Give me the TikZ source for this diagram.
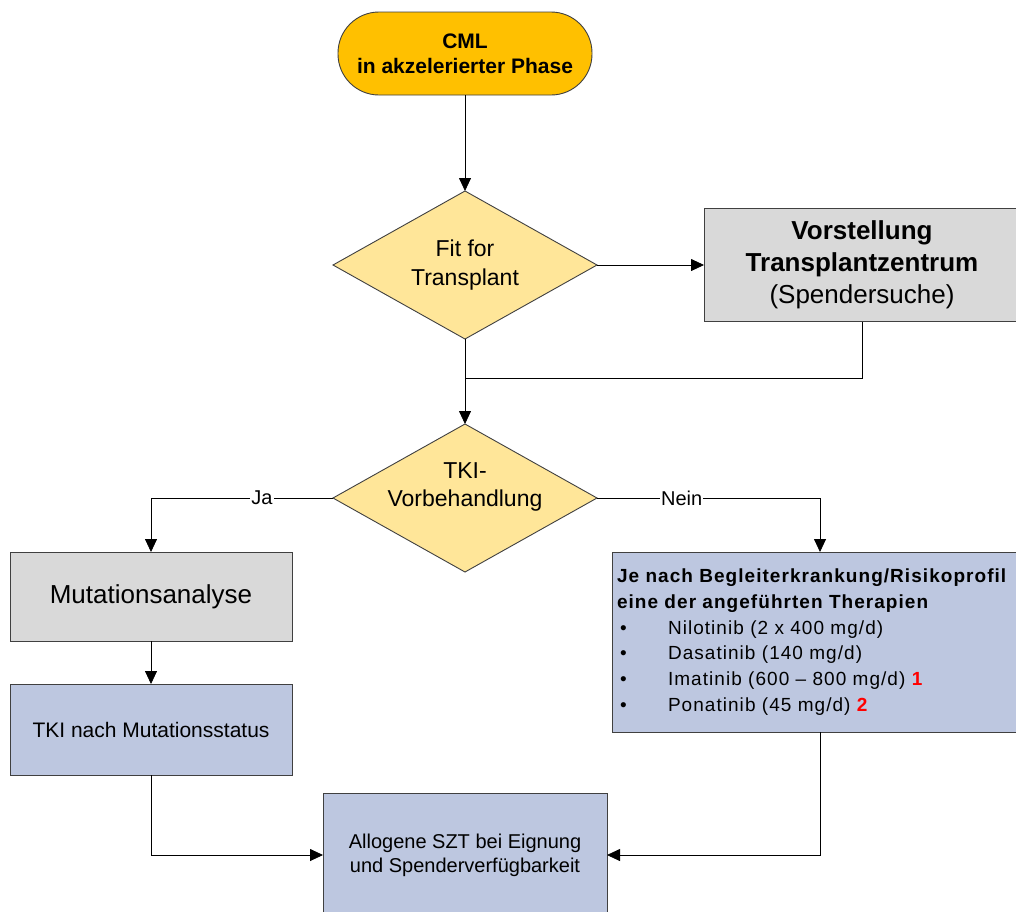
\documentclass[tikz,border=0pt]{standalone}
\usepackage{fontspec}
\setmainfont{Liberation Sans}
\newfontfamily\spaced[LetterSpace=5.5]{Liberation Sans}
\usetikzlibrary{shapes.geometric,arrows.meta}
\definecolor{cmlfill}{HTML}{FFC000}
\definecolor{decfill}{HTML}{FFE699}
\definecolor{grayfill}{HTML}{D9D9D9}
\definecolor{bluefill}{HTML}{BDC7E0}
\definecolor{border}{HTML}{404040}
\definecolor{redtxt}{HTML}{FF0000}
\newcommand{\blt}{\makebox[51pt][l]{\hspace{3pt}•}}
\begin{document}
\begin{tikzpicture}[x=1pt,y=-1pt,
 every node/.style={inner sep=0pt, outer sep=0pt},
 shapebox/.style={draw=border, line width=0.9pt},
 terminal/.style={shapebox, fill=cmlfill, rounded corners=41pt, minimum width=254pt, minimum height=83pt, align=center, font=\fontsize{21}{25}\selectfont\bfseries},
 decision/.style={shapebox, fill=decfill, diamond, minimum width=264pt, minimum height=148pt, aspect=1.78, align=center, font=\fontsize{23}{29}\selectfont},
 dtext/.style={align=center, font=\fontsize{23}{28}\selectfont},
 graybox/.style={shapebox, fill=grayfill, rectangle},
 bluebox/.style={shapebox, fill=bluefill, rectangle},
 conn/.style={line width=0.8pt, draw=black, -{Triangle[length=13pt,width=12pt]}},
 plain/.style={line width=0.8pt, draw=black},
 elabel/.style={fill=white, font=\fontsize{20}{23}\selectfont, inner xsep=1pt, inner ysep=1pt}
]
\useasboundingbox (0,0) rectangle (1016,911);
\clip (0,0) rectangle (1016,911);
\fill[white] (0,0) rectangle (1016,911);

\node[terminal] (cml) at (465,53.5) {CML\\in akzelerierter Phase};
\node[decision] (fit) at (465,265) {Fit for\\Transplant};
\node[graybox, minimum width=316pt, minimum height=113pt, align=center, font=\fontsize{26}{32}\selectfont] (vst) at (862,265) {\textbf{Vorstellung}\\\textbf{Transplantzentrum}\\(Spendersuche)};
\node[decision, label={[dtext, yshift=11pt]center:{TKI-\\Vorbehandlung}}] (tki) at (465,498) {};
\node[graybox, minimum width=282pt, minimum height=89pt, font=\fontsize{26}{30}\selectfont] (mut) at (151,596.5) {Mutationsanalyse};
\node[bluebox, minimum width=282pt, minimum height=91pt, font=\fontsize{21}{25}\selectfont] (tkim) at (151,729.5) {TKI nach Mutationsstatus};
\node[bluebox, minimum width=416pt, minimum height=180pt, text width=406pt, align=left, inner xsep=5pt, font=\fontsize{19}{25.7}\selectfont\spaced] (ther) at (820,642) {\textbf{Je nach Begleiterkrankung/Risikoprofil}\\
\textbf{eine der angeführten Therapien}\\
\blt Nilotinib (2 x 400 mg/d)\\
\blt Dasatinib (140 mg/d)\\
\blt Imatinib (600 – 800 mg/d) \textcolor{redtxt}{\textbf{1}}\\
\blt Ponatinib (45 mg/d) \textcolor{redtxt}{\textbf{2}}};
\node[bluebox, minimum width=284pt, minimum height=124pt, align=center, font=\fontsize{20}{24}\selectfont] (szt) at (465,855) {Allogene SZT bei Eignung\\und Spenderverfügbarkeit};

\coordinate (j1) at (465,378);
\draw[conn] (cml) -- (fit);
\draw[conn] (fit) -- (vst);
\draw[plain] (vst.south) |- (j1);
\draw[conn] (fit.south) -- (tki.north);
\draw[conn] (tki.west) -| node[elabel, pos=0.195]{Ja} (mut.north);
\draw[conn] (tki.east) -| node[elabel, pos=0.19]{Nein} (ther.north);
\draw[conn] (mut) -- (tkim);
\draw[conn] (tkim.south) |- (szt.west);
\draw[conn] (ther.south) |- (szt.east);
\end{tikzpicture}
\end{document}
